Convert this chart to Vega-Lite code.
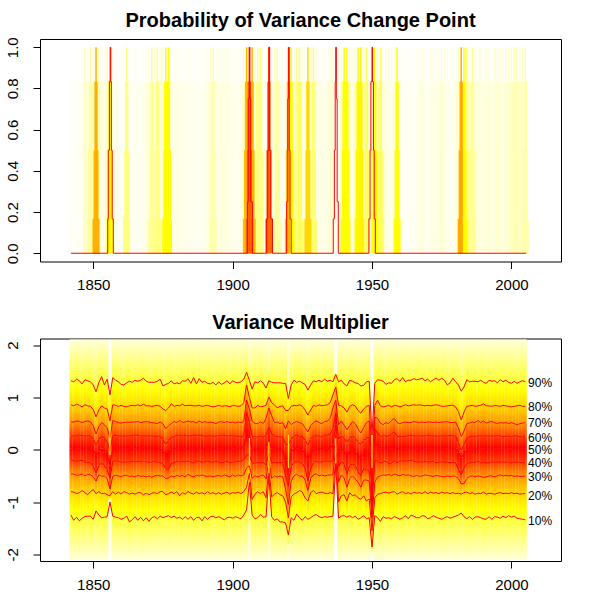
{
"$schema":"https://vega.github.io/schema/vega-lite/v6.json",
"padding":{"left":4,"top":10,"right":0,"bottom":0},
"background":"white",
"bounds":"flush",
"spacing":76.5,
"config":{
 "font":"Liberation Sans",
 "view":{"stroke":"black","strokeWidth":1},
 "axis":{"grid":false,"domain":false,"tickColor":"black","tickSize":7,"labelColor":"black","labelFontSize":15,"labelFont":"Liberation Sans"},
 "axisX":{"labelPadding":9},
 "axisY":{"labelPadding":13},
 "title":{"font":"Liberation Sans","fontSize":20,"fontWeight":"bold","color":"black","anchor":"middle","offset":5.5}
},
"datasets":{
"changes":[
{"year":1842,"p":0.03,"base":0},{"year":1843,"p":0.02,"base":0},{"year":1844,"p":0.03,"base":0},{"year":1845,"p":0.03,"base":0},{"year":1846,"p":0.05,"base":0},{"year":1848,"p":0.08,"base":0},{"year":1853,"p":0.08,"base":0},{"year":1854,"p":0.05,"base":0},{"year":1857,"p":0.05,"base":0},{"year":1858,"p":0.08,"base":0},{"year":1859,"p":0.03,"base":0},{"year":1860,"p":0.03,"base":0},{"year":1861,"p":0.05,"base":0},{"year":1863,"p":0.04,"base":0},{"year":1864,"p":0.03,"base":0},{"year":1865,"p":0.06,"base":0},{"year":1866,"p":0.05,"base":0},{"year":1867,"p":0.04,"base":0},{"year":1868,"p":0.06,"base":0},{"year":1869,"p":0.08,"base":0},{"year":1870,"p":0.1,"base":0},{"year":1872,"p":0.1,"base":0},{"year":1874,"p":0.1,"base":0},{"year":1875,"p":0.12,"base":0},{"year":1878,"p":0.07,"base":0},{"year":1879,"p":0.07,"base":0},{"year":1880,"p":0.07,"base":0},{"year":1881,"p":0.07,"base":0},{"year":1882,"p":0.06,"base":0},{"year":1883,"p":0.06,"base":0},{"year":1884,"p":0.06,"base":0},{"year":1885,"p":0.05,"base":0},{"year":1886,"p":0.05,"base":0},{"year":1887,"p":0.05,"base":0},{"year":1888,"p":0.04,"base":0},{"year":1889,"p":0.05,"base":0},{"year":1890,"p":0.06,"base":0},{"year":1891,"p":0.08,"base":0},{"year":1892,"p":0.12,"base":0},{"year":1894,"p":0.07,"base":0},{"year":1895,"p":0.07,"base":0},{"year":1896,"p":0.1,"base":0},{"year":1897,"p":0.07,"base":0},{"year":1898,"p":0.1,"base":0},{"year":1899,"p":0.07,"base":0},{"year":1900,"p":0.06,"base":0},{"year":1901,"p":0.05,"base":0},{"year":1902,"p":0.06,"base":0},{"year":1903,"p":0.05,"base":0},{"year":1908,"p":0.1,"base":0},{"year":1911,"p":0.06,"base":0},{"year":1912,"p":0.05,"base":0},{"year":1914,"p":0.07,"base":0},{"year":1915,"p":0.14,"base":0},{"year":1917,"p":0.08,"base":0},{"year":1918,"p":0.05,"base":0},{"year":1919,"p":0.05,"base":0},{"year":1922,"p":0.1,"base":0},{"year":1925,"p":0.08,"base":0},{"year":1926,"p":0.08,"base":0},{"year":1928,"p":0.14,"base":0},{"year":1930,"p":0.07,"base":0},{"year":1931,"p":0.06,"base":0},{"year":1932,"p":0.07,"base":0},{"year":1933,"p":0.06,"base":0},{"year":1934,"p":0.08,"base":0},{"year":1935,"p":0.1,"base":0},{"year":1936,"p":0.12,"base":0},{"year":1937,"p":0.03,"base":0},{"year":1938,"p":0.04,"base":0},{"year":1939,"p":0.12,"base":0},{"year":1942,"p":0.12,"base":0},{"year":1943,"p":0.06,"base":0},{"year":1944,"p":0.14,"base":0},{"year":1947,"p":0.2,"base":0},{"year":1949,"p":0.1,"base":0},{"year":1950,"p":0.08,"base":0},{"year":1952,"p":0.14,"base":0},{"year":1954,"p":0.08,"base":0},{"year":1955,"p":0.1,"base":0},{"year":1956,"p":0.07,"base":0},{"year":1957,"p":0.06,"base":0},{"year":1958,"p":0.1,"base":0},{"year":1960,"p":0.05,"base":0},{"year":1961,"p":0.04,"base":0},{"year":1962,"p":0.04,"base":0},{"year":1963,"p":0.04,"base":0},{"year":1964,"p":0.04,"base":0},{"year":1965,"p":0.04,"base":0},{"year":1966,"p":0.05,"base":0},{"year":1967,"p":0.07,"base":0},{"year":1968,"p":0.1,"base":0},{"year":1969,"p":0.06,"base":0},{"year":1970,"p":0.05,"base":0},{"year":1971,"p":0.07,"base":0},{"year":1972,"p":0.08,"base":0},{"year":1973,"p":0.07,"base":0},{"year":1974,"p":0.07,"base":0},{"year":1975,"p":0.12,"base":0},{"year":1976,"p":0.08,"base":0},{"year":1977,"p":0.06,"base":0},{"year":1978,"p":0.05,"base":0},{"year":1979,"p":0.05,"base":0},{"year":1980,"p":0.08,"base":0},{"year":1981,"p":0.14,"base":0},{"year":1985,"p":0.14,"base":0},{"year":1987,"p":0.12,"base":0},{"year":1988,"p":0.1,"base":0},{"year":1989,"p":0.08,"base":0},{"year":1990,"p":0.08,"base":0},{"year":1991,"p":0.1,"base":0},{"year":1992,"p":0.1,"base":0},{"year":1993,"p":0.07,"base":0},{"year":1994,"p":0.1,"base":0},{"year":1995,"p":0.12,"base":0},{"year":1996,"p":0.1,"base":0},{"year":1997,"p":0.08,"base":0},{"year":1998,"p":0.1,"base":0},{"year":1999,"p":0.12,"base":0},{"year":2000,"p":0.14,"base":0},{"year":2001,"p":0.18,"base":0},{"year":2002,"p":0.18,"base":0},{"year":2003,"p":0.14,"base":0},{"year":2004,"p":0.14,"base":0},{"year":2005,"p":0.2,"base":0},
{"year":1847,"p":0.15,"base":0},{"year":1849,"p":0.22,"base":0},{"year":1850,"p":0.16,"base":0},{"year":1852,"p":0.18,"base":0},{"year":1855,"p":0.15,"base":0},{"year":1862,"p":0.3,"base":0},{"year":1871,"p":0.25,"base":0},{"year":1873,"p":0.3,"base":0},{"year":1893,"p":0.2,"base":0},{"year":1904,"p":0.15,"base":0},{"year":1909,"p":0.3,"base":0},{"year":1910,"p":0.28,"base":0},{"year":1916,"p":0.22,"base":0},{"year":1923,"p":0.28,"base":0},{"year":1924,"p":0.35,"base":0},{"year":1929,"p":0.32,"base":0},{"year":1948,"p":0.35,"base":0},{"year":1953,"p":0.35,"base":0},{"year":1984,"p":0.3,"base":0},{"year":1986,"p":0.25,"base":0},
{"year":1876,"p":0.5,"base":0},{"year":1877,"p":0.5,"base":0},{"year":1856,"p":0.5,"base":0},{"year":1921,"p":0.5,"base":0},{"year":1940,"p":0.5,"base":0},{"year":1941,"p":0.5,"base":0},{"year":1945,"p":0.52,"base":0},{"year":1951,"p":0.5,"base":0},{"year":1959,"p":0.5,"base":0},{"year":1983,"p":0.5,"base":0},{"year":1946,"p":0.54,"base":0},
{"year":1927,"p":0.63,"base":0},{"year":1907,"p":0.72,"base":0},{"year":1905,"p":0.72,"base":0},{"year":1920,"p":0.72,"base":0},{"year":1851,"p":0.74,"base":0},{"year":1982,"p":0.75,"base":0},{"year":1913,"p":0.86,"base":0},{"year":1906,"p":0.88,"base":0}
],
"outline":[
{"i":1,"year":1842,"level":0},{"i":2,"year":1855.2,"level":0},{"i":3,"year":1855.2,"level":0.167},{"i":4,"year":1855.4,"level":0.167},{"i":5,"year":1855.4,"level":0.5},{"i":6,"year":1855.8,"level":0.5},{"i":7,"year":1855.8,"level":0.833},{"i":8,"year":1856.1,"level":0.833},{"i":9,"year":1856.1,"level":1},{"i":10,"year":1856.3,"level":1},{"i":11,"year":1856.3,"level":0.833},{"i":12,"year":1856.5,"level":0.833},{"i":13,"year":1856.5,"level":0.5},{"i":14,"year":1856.8,"level":0.5},{"i":15,"year":1856.8,"level":0.167},{"i":16,"year":1857.2,"level":0.167},{"i":17,"year":1857.2,"level":0},
{"i":18,"year":1905.3,"level":0},{"i":19,"year":1905.3,"level":0.25},{"i":20,"year":1905.6,"level":0.25},{"i":21,"year":1905.6,"level":0.75},{"i":22,"year":1906,"level":0.75},{"i":23,"year":1906,"level":1},{"i":24,"year":1906.2,"level":1},{"i":25,"year":1906.2,"level":0.75},{"i":26,"year":1906.5,"level":0.75},{"i":27,"year":1906.5,"level":0.25},{"i":28,"year":1907.1,"level":0.25},{"i":29,"year":1907.1,"level":0},
{"i":30,"year":1912.2,"level":0},{"i":31,"year":1912.2,"level":0.167},{"i":32,"year":1912.6,"level":0.167},{"i":33,"year":1912.6,"level":0.5},{"i":34,"year":1913,"level":0.5},{"i":35,"year":1913,"level":1},{"i":36,"year":1913.3,"level":1},{"i":37,"year":1913.3,"level":0.5},{"i":38,"year":1913.7,"level":0.5},{"i":39,"year":1913.7,"level":0.167},{"i":40,"year":1914.3,"level":0.167},{"i":41,"year":1914.3,"level":0},
{"i":42,"year":1919.4,"level":0},{"i":43,"year":1919.4,"level":0.25},{"i":44,"year":1919.8,"level":0.25},{"i":45,"year":1919.8,"level":0.75},{"i":46,"year":1920.1,"level":0.75},{"i":47,"year":1920.1,"level":1},{"i":48,"year":1920.3,"level":1},{"i":49,"year":1920.3,"level":0.5},{"i":50,"year":1920.6,"level":0.5},{"i":51,"year":1920.6,"level":0.167},{"i":52,"year":1921,"level":0.167},{"i":53,"year":1921,"level":0},
{"i":54,"year":1936.1,"level":0},{"i":55,"year":1936.1,"level":0.167},{"i":56,"year":1936.5,"level":0.167},{"i":57,"year":1936.5,"level":0.5},{"i":58,"year":1936.8,"level":0.5},{"i":59,"year":1936.8,"level":0.833},{"i":60,"year":1937,"level":0.833},{"i":61,"year":1937,"level":1},{"i":62,"year":1937.2,"level":1},{"i":63,"year":1937.2,"level":0.75},{"i":64,"year":1937.5,"level":0.75},{"i":65,"year":1937.5,"level":0.25},{"i":66,"year":1937.9,"level":0.25},{"i":67,"year":1937.9,"level":0},
{"i":68,"year":1948.9,"level":0},{"i":69,"year":1948.9,"level":0.167},{"i":70,"year":1949.3,"level":0.167},{"i":71,"year":1949.3,"level":0.5},{"i":72,"year":1949.6,"level":0.5},{"i":73,"year":1949.6,"level":0.833},{"i":74,"year":1950,"level":0.833},{"i":75,"year":1950,"level":1},{"i":76,"year":1950.2,"level":1},{"i":77,"year":1950.2,"level":0.833},{"i":78,"year":1950.5,"level":0.833},{"i":79,"year":1950.5,"level":0.5},{"i":80,"year":1950.8,"level":0.5},{"i":81,"year":1950.8,"level":0.167},{"i":82,"year":1951.2,"level":0.167},{"i":83,"year":1951.2,"level":0},{"i":84,"year":2005.3,"level":0}
],
"quantiles":[
{"year":1842,"q10":-1.25,"q20":-0.80,"q30":-0.46,"q40":-0.20,"q50":0.03,"q60":0.27,"q70":0.53,"q80":0.86,"q90":1.32},
{"year":1843,"q10":-1.35,"q20":-0.81,"q30":-0.47,"q40":-0.21,"q50":0.03,"q60":0.26,"q70":0.53,"q80":0.84,"q90":1.30},
{"year":1844,"q10":-1.29,"q20":-0.84,"q30":-0.49,"q40":-0.22,"q50":0.03,"q60":0.27,"q70":0.55,"q80":0.87,"q90":1.35},
{"year":1845,"q10":-1.36,"q20":-0.82,"q30":-0.48,"q40":-0.21,"q50":0.03,"q60":0.28,"q70":0.54,"q80":0.85,"q90":1.32},
{"year":1846,"q10":-1.31,"q20":-0.78,"q30":-0.46,"q40":-0.20,"q50":0.04,"q60":0.27,"q70":0.52,"q80":0.82,"q90":1.26},
{"year":1847,"q10":-1.28,"q20":-0.82,"q30":-0.50,"q40":-0.23,"q50":0.03,"q60":0.26,"q70":0.54,"q80":0.86,"q90":1.34},
{"year":1848,"q10":-1.27,"q20":-0.86,"q30":-0.47,"q40":-0.25,"q50":0.03,"q60":0.27,"q70":0.55,"q80":0.84,"q90":1.32},
{"year":1849,"q10":-1.27,"q20":-0.80,"q30":-0.48,"q40":-0.24,"q50":0.02,"q60":0.27,"q70":0.53,"q80":0.83,"q90":1.30},
{"year":1850,"q10":-1.33,"q20":-0.76,"q30":-0.52,"q40":-0.32,"q50":0.00,"q60":0.20,"q70":0.46,"q80":0.77,"q90":1.24},
{"year":1851,"q10":-1.17,"q20":-0.84,"q30":-0.60,"q40":-0.45,"q50":-0.12,"q60":0.09,"q70":0.30,"q80":0.63,"q90":1.11},
{"year":1852,"q10":-1.25,"q20":-0.80,"q30":-0.48,"q40":-0.30,"q50":-0.03,"q60":0.20,"q70":0.44,"q80":0.76,"q90":1.28},
{"year":1853,"q10":-1.30,"q20":-0.84,"q30":-0.51,"q40":-0.25,"q50":0.02,"q60":0.26,"q70":0.52,"q80":0.84,"q90":1.40},
{"year":1854,"q10":-1.29,"q20":-0.83,"q30":-0.50,"q40":-0.30,"q50":-0.05,"q60":0.22,"q70":0.48,"q80":0.80,"q90":1.24},
{"year":1855,"q10":-1.28,"q20":-0.86,"q30":-0.55,"q40":-0.38,"q50":-0.10,"q60":0.15,"q70":0.42,"q80":0.78,"q90":1.35},
{"year":1856,"q10":-1.00,"q20":-0.88,"q30":-0.75,"q40":-0.55,"q50":-0.30,"q60":-0.02,"q70":0.22,"q80":0.55,"q90":1.05},
{"year":1857,"q10":-1.27,"q20":-0.80,"q30":-0.51,"q40":-0.22,"q50":0.03,"q60":0.27,"q70":0.56,"q80":0.86,"q90":1.38},
{"year":1858,"q10":-1.29,"q20":-0.85,"q30":-0.49,"q40":-0.21,"q50":0.04,"q60":0.28,"q70":0.54,"q80":0.85,"q90":1.33},
{"year":1859,"q10":-1.30,"q20":-0.81,"q30":-0.50,"q40":-0.22,"q50":0.03,"q60":0.26,"q70":0.52,"q80":0.83,"q90":1.30},
{"year":1860,"q10":-1.33,"q20":-0.85,"q30":-0.52,"q40":-0.24,"q50":0.03,"q60":0.27,"q70":0.51,"q80":0.85,"q90":1.25},
{"year":1861,"q10":-1.31,"q20":-0.80,"q30":-0.49,"q40":-0.24,"q50":0.03,"q60":0.26,"q70":0.52,"q80":0.83,"q90":1.24},
{"year":1862,"q10":-1.27,"q20":-0.82,"q30":-0.49,"q40":-0.23,"q50":0.03,"q60":0.26,"q70":0.53,"q80":0.82,"q90":1.28},
{"year":1863,"q10":-1.38,"q20":-0.85,"q30":-0.51,"q40":-0.24,"q50":0.03,"q60":0.27,"q70":0.52,"q80":0.84,"q90":1.31},
{"year":1864,"q10":-1.34,"q20":-0.83,"q30":-0.50,"q40":-0.22,"q50":0.04,"q60":0.27,"q70":0.53,"q80":0.85,"q90":1.29},
{"year":1865,"q10":-1.28,"q20":-0.85,"q30":-0.52,"q40":-0.23,"q50":0.03,"q60":0.28,"q70":0.53,"q80":0.84,"q90":1.33},
{"year":1866,"q10":-1.35,"q20":-0.82,"q30":-0.49,"q40":-0.22,"q50":0.03,"q60":0.28,"q70":0.54,"q80":0.86,"q90":1.31},
{"year":1867,"q10":-1.29,"q20":-0.82,"q30":-0.51,"q40":-0.23,"q50":0.03,"q60":0.26,"q70":0.52,"q80":0.84,"q90":1.33},
{"year":1868,"q10":-1.36,"q20":-0.86,"q30":-0.50,"q40":-0.21,"q50":0.04,"q60":0.27,"q70":0.53,"q80":0.87,"q90":1.37},
{"year":1869,"q10":-1.30,"q20":-0.83,"q30":-0.52,"q40":-0.24,"q50":0.03,"q60":0.26,"q70":0.54,"q80":0.84,"q90":1.31},
{"year":1870,"q10":-1.37,"q20":-0.86,"q30":-0.50,"q40":-0.23,"q50":0.03,"q60":0.27,"q70":0.53,"q80":0.84,"q90":1.29},
{"year":1871,"q10":-1.30,"q20":-0.83,"q30":-0.53,"q40":-0.24,"q50":0.03,"q60":0.26,"q70":0.52,"q80":0.83,"q90":1.29},
{"year":1872,"q10":-1.28,"q20":-0.82,"q30":-0.50,"q40":-0.22,"q50":0.02,"q60":0.26,"q70":0.51,"q80":0.84,"q90":1.29},
{"year":1873,"q10":-1.32,"q20":-0.84,"q30":-0.49,"q40":-0.24,"q50":0.03,"q60":0.25,"q70":0.50,"q80":0.85,"q90":1.31},
{"year":1874,"q10":-1.27,"q20":-0.80,"q30":-0.50,"q40":-0.24,"q50":0.02,"q60":0.27,"q70":0.53,"q80":0.83,"q90":1.35},
{"year":1875,"q10":-1.30,"q20":-0.80,"q30":-0.50,"q40":-0.27,"q50":-0.02,"q60":0.20,"q70":0.50,"q80":0.78,"q90":1.22},
{"year":1876,"q10":-1.28,"q20":-0.86,"q30":-0.55,"q40":-0.36,"q50":-0.08,"q60":0.10,"q70":0.40,"q80":0.75,"q90":1.25},
{"year":1877,"q10":-1.26,"q20":-0.84,"q30":-0.54,"q40":-0.38,"q50":-0.06,"q60":0.18,"q70":0.46,"q80":0.80,"q90":1.27},
{"year":1878,"q10":-1.30,"q20":-0.81,"q30":-0.50,"q40":-0.25,"q50":0.01,"q60":0.24,"q70":0.50,"q80":0.88,"q90":1.32},
{"year":1879,"q10":-1.27,"q20":-0.84,"q30":-0.52,"q40":-0.25,"q50":0.02,"q60":0.25,"q70":0.54,"q80":0.83,"q90":1.26},
{"year":1880,"q10":-1.31,"q20":-0.80,"q30":-0.49,"q40":-0.22,"q50":0.03,"q60":0.28,"q70":0.52,"q80":0.85,"q90":1.28},
{"year":1881,"q10":-1.29,"q20":-0.88,"q30":-0.51,"q40":-0.24,"q50":0.03,"q60":0.27,"q70":0.56,"q80":0.84,"q90":1.26},
{"year":1882,"q10":-1.33,"q20":-0.82,"q30":-0.49,"q40":-0.22,"q50":0.03,"q60":0.26,"q70":0.52,"q80":0.87,"q90":1.32},
{"year":1883,"q10":-1.28,"q20":-0.85,"q30":-0.52,"q40":-0.23,"q50":0.03,"q60":0.28,"q70":0.53,"q80":0.84,"q90":1.31},
{"year":1884,"q10":-1.33,"q20":-0.80,"q30":-0.47,"q40":-0.21,"q50":0.04,"q60":0.26,"q70":0.55,"q80":0.85,"q90":1.36},
{"year":1885,"q10":-1.28,"q20":-0.83,"q30":-0.50,"q40":-0.24,"q50":0.03,"q60":0.27,"q70":0.53,"q80":0.85,"q90":1.27},
{"year":1886,"q10":-1.35,"q20":-0.85,"q30":-0.52,"q40":-0.25,"q50":0.03,"q60":0.28,"q70":0.54,"q80":0.84,"q90":1.38},
{"year":1887,"q10":-1.30,"q20":-0.81,"q30":-0.49,"q40":-0.22,"q50":0.02,"q60":0.27,"q70":0.51,"q80":0.84,"q90":1.26},
{"year":1888,"q10":-1.29,"q20":-0.84,"q30":-0.50,"q40":-0.22,"q50":0.03,"q60":0.28,"q70":0.55,"q80":0.85,"q90":1.36},
{"year":1889,"q10":-1.36,"q20":-0.82,"q30":-0.48,"q40":-0.24,"q50":0.03,"q60":0.27,"q70":0.52,"q80":0.83,"q90":1.29},
{"year":1890,"q10":-1.28,"q20":-0.85,"q30":-0.50,"q40":-0.23,"q50":0.02,"q60":0.26,"q70":0.54,"q80":0.84,"q90":1.31},
{"year":1891,"q10":-1.33,"q20":-0.80,"q30":-0.51,"q40":-0.22,"q50":0.03,"q60":0.26,"q70":0.52,"q80":0.85,"q90":1.27},
{"year":1892,"q10":-1.28,"q20":-0.84,"q30":-0.50,"q40":-0.23,"q50":0.03,"q60":0.27,"q70":0.53,"q80":0.83,"q90":1.26},
{"year":1893,"q10":-1.27,"q20":-0.82,"q30":-0.52,"q40":-0.24,"q50":0.02,"q60":0.26,"q70":0.52,"q80":0.82,"q90":1.29},
{"year":1894,"q10":-1.30,"q20":-0.85,"q30":-0.50,"q40":-0.22,"q50":0.03,"q60":0.26,"q70":0.50,"q80":0.83,"q90":1.24},
{"year":1895,"q10":-1.28,"q20":-0.82,"q30":-0.49,"q40":-0.24,"q50":0.03,"q60":0.27,"q70":0.53,"q80":0.85,"q90":1.30},
{"year":1896,"q10":-1.31,"q20":-0.85,"q30":-0.51,"q40":-0.25,"q50":0.03,"q60":0.27,"q70":0.54,"q80":0.83,"q90":1.25},
{"year":1897,"q10":-1.34,"q20":-0.83,"q30":-0.48,"q40":-0.24,"q50":0.03,"q60":0.28,"q70":0.52,"q80":0.84,"q90":1.28},
{"year":1898,"q10":-1.30,"q20":-0.81,"q30":-0.50,"q40":-0.22,"q50":0.03,"q60":0.26,"q70":0.54,"q80":0.84,"q90":1.32},
{"year":1899,"q10":-1.29,"q20":-0.85,"q30":-0.52,"q40":-0.25,"q50":0.03,"q60":0.27,"q70":0.52,"q80":0.82,"q90":1.26},
{"year":1900,"q10":-1.31,"q20":-0.82,"q30":-0.48,"q40":-0.24,"q50":0.03,"q60":0.27,"q70":0.53,"q80":0.85,"q90":1.32},
{"year":1901,"q10":-1.28,"q20":-0.83,"q30":-0.51,"q40":-0.23,"q50":0.03,"q60":0.26,"q70":0.51,"q80":0.84,"q90":1.29},
{"year":1902,"q10":-1.30,"q20":-0.81,"q30":-0.48,"q40":-0.22,"q50":0.04,"q60":0.26,"q70":0.53,"q80":0.83,"q90":1.28},
{"year":1903,"q10":-1.32,"q20":-0.84,"q30":-0.50,"q40":-0.22,"q50":0.04,"q60":0.25,"q70":0.52,"q80":0.84,"q90":1.30},
{"year":1904,"q10":-1.25,"q20":-0.80,"q30":-0.48,"q40":-0.20,"q50":0.05,"q60":0.26,"q70":0.54,"q80":0.90,"q90":1.35},
{"year":1905,"q10":-1.15,"q20":-0.72,"q30":-0.35,"q40":-0.10,"q50":0.30,"q60":0.72,"q70":0.95,"q80":1.24,"q90":1.48},
{"year":1906,"q10":-0.62,"q20":-0.45,"q30":-0.30,"q40":-0.10,"q50":0.22,"q60":0.52,"q70":0.78,"q80":1.00,"q90":1.33},
{"year":1907,"q10":-1.25,"q20":-0.95,"q30":-0.55,"q40":-0.25,"q50":0.02,"q60":0.25,"q70":0.55,"q80":0.80,"q90":1.16},
{"year":1908,"q10":-1.32,"q20":-0.85,"q30":-0.50,"q40":-0.26,"q50":0.00,"q60":0.25,"q70":0.50,"q80":0.80,"q90":1.30},
{"year":1909,"q10":-1.30,"q20":-0.80,"q30":-0.52,"q40":-0.24,"q50":0.01,"q60":0.24,"q70":0.50,"q80":0.85,"q90":1.28},
{"year":1910,"q10":-1.24,"q20":-0.84,"q30":-0.50,"q40":-0.25,"q50":0.01,"q60":0.26,"q70":0.53,"q80":0.82,"q90":1.32},
{"year":1911,"q10":-1.29,"q20":-0.80,"q30":-0.48,"q40":-0.24,"q50":0.02,"q60":0.24,"q70":0.50,"q80":0.83,"q90":1.27},
{"year":1912,"q10":-1.28,"q20":-0.92,"q30":-0.56,"q40":-0.30,"q50":0.05,"q60":0.28,"q70":0.60,"q80":0.85,"q90":1.18},
{"year":1913,"q10":-0.50,"q20":-0.35,"q30":-0.20,"q40":-0.05,"q50":0.15,"q60":0.44,"q70":0.80,"q80":1.01,"q90":1.32},
{"year":1914,"q10":-1.28,"q20":-0.90,"q30":-0.55,"q40":-0.25,"q50":0.03,"q60":0.30,"q70":0.65,"q80":0.90,"q90":1.29},
{"year":1915,"q10":-1.35,"q20":-0.85,"q30":-0.50,"q40":-0.24,"q50":0.03,"q60":0.27,"q70":0.52,"q80":0.86,"q90":1.28},
{"year":1916,"q10":-1.32,"q20":-0.82,"q30":-0.52,"q40":-0.25,"q50":0.02,"q60":0.25,"q70":0.53,"q80":0.80,"q90":1.28},
{"year":1917,"q10":-1.38,"q20":-0.86,"q30":-0.50,"q40":-0.24,"q50":0.01,"q60":0.25,"q70":0.50,"q80":0.83,"q90":1.28},
{"year":1918,"q10":-1.38,"q20":-0.88,"q30":-0.52,"q40":-0.26,"q50":0.00,"q60":0.24,"q70":0.52,"q80":0.84,"q90":1.27},
{"year":1919,"q10":-1.40,"q20":-1.00,"q30":-0.75,"q40":-0.50,"q50":-0.20,"q60":0.10,"q70":0.40,"q80":0.75,"q90":1.27},
{"year":1920,"q10":-1.63,"q20":-1.30,"q30":-1.05,"q40":-0.70,"q50":-0.35,"q60":0.10,"q70":0.55,"q80":0.75,"q90":0.98},
{"year":1921,"q10":-1.30,"q20":-0.90,"q30":-0.60,"q40":-0.32,"q50":-0.05,"q60":0.20,"q70":0.48,"q80":0.83,"q90":1.24},
{"year":1922,"q10":-1.35,"q20":-0.85,"q30":-0.50,"q40":-0.24,"q50":0.02,"q60":0.27,"q70":0.52,"q80":0.85,"q90":1.33},
{"year":1923,"q10":-1.23,"q20":-0.82,"q30":-0.47,"q40":-0.22,"q50":0.02,"q60":0.28,"q70":0.54,"q80":0.84,"q90":1.29},
{"year":1924,"q10":-1.30,"q20":-0.78,"q30":-0.51,"q40":-0.24,"q50":0.01,"q60":0.25,"q70":0.52,"q80":0.86,"q90":1.31},
{"year":1925,"q10":-1.35,"q20":-0.81,"q30":-0.50,"q40":-0.26,"q50":0.00,"q60":0.26,"q70":0.50,"q80":0.83,"q90":1.28},
{"year":1926,"q10":-1.28,"q20":-0.92,"q30":-0.58,"q40":-0.35,"q50":-0.08,"q60":0.18,"q70":0.42,"q80":0.76,"q90":1.25},
{"year":1927,"q10":-1.33,"q20":-0.98,"q30":-0.78,"q40":-0.60,"q50":-0.18,"q60":0.09,"q70":0.34,"q80":0.66,"q90":1.14},
{"year":1928,"q10":-1.30,"q20":-0.82,"q30":-0.55,"q40":-0.35,"q50":-0.06,"q60":0.20,"q70":0.46,"q80":0.76,"q90":1.24},
{"year":1929,"q10":-1.26,"q20":-0.78,"q30":-0.48,"q40":-0.24,"q50":0.03,"q60":0.26,"q70":0.52,"q80":0.85,"q90":1.32},
{"year":1930,"q10":-1.24,"q20":-0.84,"q30":-0.46,"q40":-0.22,"q50":0.03,"q60":0.27,"q70":0.55,"q80":0.83,"q90":1.30},
{"year":1931,"q10":-1.28,"q20":-0.82,"q30":-0.50,"q40":-0.24,"q50":0.02,"q60":0.26,"q70":0.52,"q80":0.86,"q90":1.33},
{"year":1932,"q10":-1.30,"q20":-0.81,"q30":-0.48,"q40":-0.23,"q50":0.03,"q60":0.24,"q70":0.50,"q80":0.84,"q90":1.30},
{"year":1933,"q10":-1.28,"q20":-0.83,"q30":-0.50,"q40":-0.22,"q50":0.02,"q60":0.28,"q70":0.54,"q80":0.85,"q90":1.35},
{"year":1934,"q10":-1.29,"q20":-0.84,"q30":-0.49,"q40":-0.22,"q50":0.02,"q60":0.28,"q70":0.55,"q80":0.86,"q90":1.31},
{"year":1935,"q10":-1.28,"q20":-0.82,"q30":-0.48,"q40":-0.22,"q50":0.03,"q60":0.30,"q70":0.60,"q80":0.90,"q90":1.33},
{"year":1936,"q10":-1.27,"q20":-0.84,"q30":-0.48,"q40":-0.22,"q50":0.10,"q60":0.40,"q70":0.80,"q80":1.05,"q90":1.30},
{"year":1937,"q10":-0.28,"q20":-0.10,"q30":0.08,"q40":0.28,"q50":0.48,"q60":0.70,"q70":0.95,"q80":1.20,"q90":1.44},
{"year":1938,"q10":-1.31,"q20":-1.00,"q30":-0.62,"q40":-0.32,"q50":-0.04,"q60":0.20,"q70":0.48,"q80":0.85,"q90":1.30},
{"year":1939,"q10":-1.27,"q20":-0.88,"q30":-0.48,"q40":-0.22,"q50":0.03,"q60":0.27,"q70":0.55,"q80":0.84,"q90":1.33},
{"year":1940,"q10":-1.26,"q20":-0.86,"q30":-0.54,"q40":-0.28,"q50":-0.02,"q60":0.22,"q70":0.47,"q80":0.80,"q90":1.26},
{"year":1941,"q10":-1.29,"q20":-0.98,"q30":-0.72,"q40":-0.46,"q50":-0.12,"q60":0.14,"q70":0.38,"q80":0.72,"q90":1.22},
{"year":1942,"q10":-1.26,"q20":-0.82,"q30":-0.55,"q40":-0.30,"q50":-0.02,"q60":0.22,"q70":0.46,"q80":0.83,"q90":1.33},
{"year":1943,"q10":-1.30,"q20":-0.88,"q30":-0.50,"q40":-0.27,"q50":0.00,"q60":0.27,"q70":0.54,"q80":0.86,"q90":1.31},
{"year":1944,"q10":-1.27,"q20":-0.86,"q30":-0.56,"q40":-0.30,"q50":-0.03,"q60":0.22,"q70":0.50,"q80":0.84,"q90":1.28},
{"year":1945,"q10":-1.33,"q20":-0.92,"q30":-0.62,"q40":-0.42,"q50":-0.12,"q60":0.14,"q70":0.40,"q80":0.75,"q90":1.27},
{"year":1946,"q10":-1.30,"q20":-0.95,"q30":-0.72,"q40":-0.50,"q50":-0.15,"q60":0.10,"q70":0.32,"q80":0.70,"q90":1.22},
{"year":1947,"q10":-1.26,"q20":-0.88,"q30":-0.58,"q40":-0.36,"q50":-0.08,"q60":0.18,"q70":0.42,"q80":0.78,"q90":1.23},
{"year":1948,"q10":-1.32,"q20":-0.98,"q30":-0.58,"q40":-0.38,"q50":-0.05,"q60":0.22,"q70":0.52,"q80":0.83,"q90":1.30},
{"year":1949,"q10":-1.30,"q20":-0.94,"q30":-0.60,"q40":-0.40,"q50":-0.05,"q60":0.25,"q70":0.55,"q80":0.85,"q90":1.31},
{"year":1950,"q10":-1.86,"q20":-1.55,"q30":-1.30,"q40":-1.10,"q50":-0.85,"q60":-0.65,"q70":-0.40,"q80":-0.10,"q90":0.28},
{"year":1951,"q10":-1.26,"q20":-0.92,"q30":-0.62,"q40":-0.20,"q50":0.15,"q60":0.40,"q70":0.62,"q80":0.85,"q90":1.27},
{"year":1952,"q10":-1.30,"q20":-0.85,"q30":-0.52,"q40":-0.22,"q50":0.07,"q60":0.32,"q70":0.60,"q80":0.95,"q90":1.34},
{"year":1953,"q10":-1.37,"q20":-0.84,"q30":-0.50,"q40":-0.26,"q50":0.03,"q60":0.25,"q70":0.51,"q80":0.84,"q90":1.33},
{"year":1954,"q10":-1.28,"q20":-0.82,"q30":-0.48,"q40":-0.24,"q50":0.03,"q60":0.27,"q70":0.48,"q80":0.82,"q90":1.31},
{"year":1955,"q10":-1.31,"q20":-0.81,"q30":-0.49,"q40":-0.21,"q50":0.03,"q60":0.26,"q70":0.52,"q80":0.83,"q90":1.25},
{"year":1956,"q10":-1.30,"q20":-0.83,"q30":-0.47,"q40":-0.27,"q50":0.03,"q60":0.26,"q70":0.50,"q80":0.85,"q90":1.28},
{"year":1957,"q10":-1.32,"q20":-0.81,"q30":-0.50,"q40":-0.26,"q50":0.03,"q60":0.30,"q70":0.56,"q80":0.82,"q90":1.27},
{"year":1958,"q10":-1.28,"q20":-0.80,"q30":-0.46,"q40":-0.20,"q50":0.05,"q60":0.35,"q70":0.60,"q80":0.85,"q90":1.34},
{"year":1959,"q10":-1.30,"q20":-0.85,"q30":-0.48,"q40":-0.25,"q50":0.02,"q60":0.25,"q70":0.52,"q80":0.84,"q90":1.36},
{"year":1960,"q10":-1.33,"q20":-0.82,"q30":-0.50,"q40":-0.22,"q50":0.03,"q60":0.26,"q70":0.50,"q80":0.82,"q90":1.31},
{"year":1961,"q10":-1.30,"q20":-0.80,"q30":-0.47,"q40":-0.21,"q50":0.03,"q60":0.25,"q70":0.52,"q80":0.84,"q90":1.38},
{"year":1962,"q10":-1.26,"q20":-0.84,"q30":-0.49,"q40":-0.22,"q50":0.03,"q60":0.26,"q70":0.53,"q80":0.86,"q90":1.30},
{"year":1963,"q10":-1.32,"q20":-0.82,"q30":-0.48,"q40":-0.21,"q50":0.03,"q60":0.27,"q70":0.52,"q80":0.84,"q90":1.33},
{"year":1964,"q10":-1.25,"q20":-0.85,"q30":-0.50,"q40":-0.20,"q50":0.04,"q60":0.28,"q70":0.52,"q80":0.85,"q90":1.33},
{"year":1965,"q10":-1.27,"q20":-0.81,"q30":-0.51,"q40":-0.22,"q50":0.03,"q60":0.26,"q70":0.54,"q80":0.86,"q90":1.36},
{"year":1966,"q10":-1.30,"q20":-0.83,"q30":-0.49,"q40":-0.23,"q50":0.03,"q60":0.27,"q70":0.53,"q80":0.85,"q90":1.34},
{"year":1967,"q10":-1.30,"q20":-0.82,"q30":-0.51,"q40":-0.23,"q50":0.03,"q60":0.26,"q70":0.52,"q80":0.86,"q90":1.35},
{"year":1968,"q10":-1.26,"q20":-0.84,"q30":-0.50,"q40":-0.24,"q50":0.03,"q60":0.27,"q70":0.53,"q80":0.85,"q90":1.37},
{"year":1969,"q10":-1.27,"q20":-0.80,"q30":-0.48,"q40":-0.22,"q50":0.03,"q60":0.26,"q70":0.52,"q80":0.84,"q90":1.32},
{"year":1970,"q10":-1.32,"q20":-0.84,"q30":-0.49,"q40":-0.24,"q50":0.03,"q60":0.28,"q70":0.53,"q80":0.85,"q90":1.35},
{"year":1971,"q10":-1.30,"q20":-0.81,"q30":-0.50,"q40":-0.23,"q50":0.03,"q60":0.26,"q70":0.53,"q80":0.84,"q90":1.30},
{"year":1972,"q10":-1.26,"q20":-0.83,"q30":-0.51,"q40":-0.22,"q50":0.03,"q60":0.27,"q70":0.52,"q80":0.85,"q90":1.34},
{"year":1973,"q10":-1.29,"q20":-0.82,"q30":-0.49,"q40":-0.25,"q50":0.03,"q60":0.26,"q70":0.53,"q80":0.86,"q90":1.37},
{"year":1974,"q10":-1.31,"q20":-0.84,"q30":-0.50,"q40":-0.24,"q50":0.03,"q60":0.26,"q70":0.52,"q80":0.85,"q90":1.33},
{"year":1975,"q10":-1.33,"q20":-0.81,"q30":-0.51,"q40":-0.23,"q50":0.03,"q60":0.27,"q70":0.53,"q80":0.83,"q90":1.37},
{"year":1976,"q10":-1.30,"q20":-0.83,"q30":-0.52,"q40":-0.24,"q50":0.03,"q60":0.26,"q70":0.53,"q80":0.83,"q90":1.33},
{"year":1977,"q10":-1.28,"q20":-0.82,"q30":-0.50,"q40":-0.24,"q50":0.03,"q60":0.27,"q70":0.54,"q80":0.84,"q90":1.24},
{"year":1978,"q10":-1.31,"q20":-0.84,"q30":-0.52,"q40":-0.25,"q50":0.03,"q60":0.27,"q70":0.52,"q80":0.85,"q90":1.28},
{"year":1979,"q10":-1.29,"q20":-0.82,"q30":-0.50,"q40":-0.24,"q50":0.03,"q60":0.27,"q70":0.52,"q80":0.85,"q90":1.37},
{"year":1980,"q10":-1.27,"q20":-0.84,"q30":-0.51,"q40":-0.25,"q50":0.02,"q60":0.26,"q70":0.53,"q80":0.82,"q90":1.30},
{"year":1981,"q10":-1.25,"q20":-0.83,"q30":-0.55,"q40":-0.38,"q50":-0.05,"q60":0.14,"q70":0.42,"q80":0.73,"q90":1.24},
{"year":1982,"q10":-1.21,"q20":-0.85,"q30":-0.65,"q40":-0.48,"q50":-0.15,"q60":-0.01,"q70":0.25,"q80":0.57,"q90":1.12},
{"year":1983,"q10":-1.28,"q20":-0.82,"q30":-0.65,"q40":-0.35,"q50":-0.08,"q60":0.10,"q70":0.36,"q80":0.72,"q90":1.20},
{"year":1984,"q10":-1.32,"q20":-0.81,"q30":-0.55,"q40":-0.26,"q50":0.00,"q60":0.22,"q70":0.50,"q80":0.83,"q90":1.34},
{"year":1985,"q10":-1.28,"q20":-0.84,"q30":-0.51,"q40":-0.25,"q50":0.01,"q60":0.25,"q70":0.51,"q80":0.84,"q90":1.30},
{"year":1986,"q10":-1.33,"q20":-0.82,"q30":-0.50,"q40":-0.24,"q50":0.02,"q60":0.26,"q70":0.53,"q80":0.85,"q90":1.31},
{"year":1987,"q10":-1.29,"q20":-0.85,"q30":-0.52,"q40":-0.24,"q50":0.02,"q60":0.25,"q70":0.52,"q80":0.83,"q90":1.31},
{"year":1988,"q10":-1.28,"q20":-0.83,"q30":-0.50,"q40":-0.22,"q50":0.03,"q60":0.27,"q70":0.56,"q80":0.84,"q90":1.30},
{"year":1989,"q10":-1.30,"q20":-0.84,"q30":-0.51,"q40":-0.25,"q50":0.03,"q60":0.26,"q70":0.52,"q80":0.85,"q90":1.33},
{"year":1990,"q10":-1.32,"q20":-0.81,"q30":-0.53,"q40":-0.24,"q50":0.03,"q60":0.27,"q70":0.55,"q80":0.88,"q90":1.29},
{"year":1991,"q10":-1.33,"q20":-0.85,"q30":-0.52,"q40":-0.25,"q50":0.03,"q60":0.26,"q70":0.51,"q80":0.84,"q90":1.27},
{"year":1992,"q10":-1.28,"q20":-0.83,"q30":-0.50,"q40":-0.25,"q50":0.03,"q60":0.27,"q70":0.53,"q80":0.84,"q90":1.33},
{"year":1993,"q10":-1.33,"q20":-0.84,"q30":-0.50,"q40":-0.23,"q50":0.03,"q60":0.26,"q70":0.54,"q80":0.83,"q90":1.31},
{"year":1994,"q10":-1.28,"q20":-0.85,"q30":-0.52,"q40":-0.24,"q50":0.03,"q60":0.26,"q70":0.52,"q80":0.85,"q90":1.32},
{"year":1995,"q10":-1.29,"q20":-0.83,"q30":-0.50,"q40":-0.23,"q50":0.03,"q60":0.27,"q70":0.50,"q80":0.84,"q90":1.28},
{"year":1996,"q10":-1.31,"q20":-0.82,"q30":-0.48,"q40":-0.24,"q50":0.03,"q60":0.27,"q70":0.52,"q80":0.83,"q90":1.34},
{"year":1997,"q10":-1.27,"q20":-0.84,"q30":-0.50,"q40":-0.23,"q50":0.03,"q60":0.25,"q70":0.51,"q80":0.85,"q90":1.30},
{"year":1998,"q10":-1.30,"q20":-0.83,"q30":-0.49,"q40":-0.24,"q50":0.03,"q60":0.26,"q70":0.52,"q80":0.84,"q90":1.33},
{"year":1999,"q10":-1.26,"q20":-0.84,"q30":-0.50,"q40":-0.23,"q50":0.03,"q60":0.26,"q70":0.50,"q80":0.83,"q90":1.29},
{"year":2000,"q10":-1.29,"q20":-0.82,"q30":-0.49,"q40":-0.25,"q50":0.03,"q60":0.25,"q70":0.52,"q80":0.82,"q90":1.27},
{"year":2001,"q10":-1.27,"q20":-0.84,"q30":-0.51,"q40":-0.23,"q50":0.03,"q60":0.27,"q70":0.50,"q80":0.83,"q90":1.31},
{"year":2002,"q10":-1.31,"q20":-0.83,"q30":-0.50,"q40":-0.24,"q50":0.03,"q60":0.26,"q70":0.48,"q80":0.84,"q90":1.27},
{"year":2003,"q10":-1.32,"q20":-0.85,"q30":-0.51,"q40":-0.24,"q50":0.03,"q60":0.25,"q70":0.50,"q80":0.85,"q90":1.30},
{"year":2004,"q10":-1.33,"q20":-0.84,"q30":-0.51,"q40":-0.25,"q50":0.03,"q60":0.25,"q70":0.51,"q80":0.83,"q90":1.32},
{"year":2005,"q10":-1.34,"q20":-0.84,"q30":-0.50,"q40":-0.24,"q50":0.03,"q60":0.25,"q70":0.52,"q80":0.83,"q90":1.30}
],
"washes":[
{"year":1856,"upper":2.1,"lower":1.08,"density":0.9},{"year":1856,"upper":-0.95,"lower":-2.1,"density":0.85},
{"year":1906,"upper":2.1,"lower":1.6,"density":0.3},{"year":1906,"upper":-1.4,"lower":-2.1,"density":0.3},
{"year":1913,"upper":2.1,"lower":1.5,"density":0.25},{"year":1913,"upper":-1.2,"lower":-2.1,"density":0.25},
{"year":1920,"upper":2.1,"lower":1.1,"density":0.5},{"year":1920,"upper":-1.8,"lower":-2.1,"density":0.5},
{"year":1937,"upper":2.1,"lower":1.45,"density":0.95},{"year":1937,"upper":-0.3,"lower":-2.1,"density":0.95},
{"year":1950,"upper":2.1,"lower":0.3,"density":0.95},{"year":1950,"upper":-1.9,"lower":-2.1,"density":0.8}
],
"cores":[
{"year":1856,"upper":0.5,"lower":-0.1},{"year":1906,"upper":0.22,"lower":-0.3},{"year":1913,"upper":0.15,"lower":-0.45},{"year":1920,"upper":0.28,"lower":-0.35},{"year":1937,"upper":0.22,"lower":-0.26},{"year":1950,"upper":0.28,"lower":-0.35}
],
"labels":[
{"year":2006,"value":1.28,"label":"90%"},{"year":2006,"value":0.82,"label":"80%"},{"year":2006,"value":0.51,"label":"70%"},{"year":2006,"value":0.22,"label":"60%"},{"year":2006,"value":-0.01,"label":"50%"},{"year":2006,"value":-0.25,"label":"40%"},{"year":2006,"value":-0.52,"label":"30%"},{"year":2006,"value":-0.88,"label":"20%"},{"year":2006,"value":-1.36,"label":"10%"}
]
},
"vconcat":[
{
 "title":"Probability of Variance Change Point",
 "width":521,"height":222.5,
 "data":{"name":"changes"},
 "encoding":{"x":{"field":"year","type":"quantitative","title":null,"scale":{"domain":[1830.9,2017.8],"nice":false,"zero":false,"padding":0},"axis":{"values":[1850,1900,1950,2000],"format":"d"}}},
 "layer":[
  {"transform":[{"filter":"datum.p < 0.2"}],"mark":{"type":"bar","width":7},"encoding":{
    "y":{"field":"base","type":"quantitative","title":null,"scale":{"domain":[-0.04,1.04],"nice":false},"axis":{"values":[0,0.2,0.4,0.6,0.8,1],"format":".1f","labelAngle":-90,"labelAlign":"center","labelBaseline":"bottom"}},
    "y2":{"datum":0.167},
    "color":{"field":"p","type":"quantitative","legend":null,"scale":{"domain":[0,0.05,0.15,0.3,0.5,0.63,0.74,0.88,1],"range":["#ffffff","#fffff0","#ffffc0","#ffff80","#ffff00","#ffd800","#ffb000","#ff6000","#ff0000"],"interpolate":"rgb"}}}},
  {"transform":[{"filter":"datum.p < 0.2"}],"mark":{"type":"bar","width":5},"encoding":{"y":{"field":"base","type":"quantitative","title":null},"y2":{"datum":0.5},"color":{"field":"p","type":"quantitative","legend":null}}},
  {"transform":[{"filter":"datum.p < 0.2"}],"mark":{"type":"bar","width":3.3},"encoding":{"y":{"field":"base","type":"quantitative","title":null},"y2":{"datum":0.833},"color":{"field":"p","type":"quantitative","legend":null}}},
  {"transform":[{"filter":"datum.p < 0.2"}],"mark":{"type":"bar","width":1.5},"encoding":{"y":{"field":"base","type":"quantitative","title":null},"y2":{"datum":1},"color":{"field":"p","type":"quantitative","legend":null}}},
  {"transform":[{"filter":"datum.p >= 0.2 && datum.p < 0.45"}],"mark":{"type":"bar","width":7},"encoding":{"y":{"field":"base","type":"quantitative","title":null},"y2":{"datum":0.167},"color":{"field":"p","type":"quantitative","legend":null}}},
  {"transform":[{"filter":"datum.p >= 0.2 && datum.p < 0.45"}],"mark":{"type":"bar","width":5},"encoding":{"y":{"field":"base","type":"quantitative","title":null},"y2":{"datum":0.5},"color":{"field":"p","type":"quantitative","legend":null}}},
  {"transform":[{"filter":"datum.p >= 0.2 && datum.p < 0.45"}],"mark":{"type":"bar","width":3.3},"encoding":{"y":{"field":"base","type":"quantitative","title":null},"y2":{"datum":0.833},"color":{"field":"p","type":"quantitative","legend":null}}},
  {"transform":[{"filter":"datum.p >= 0.2 && datum.p < 0.45"}],"mark":{"type":"bar","width":1.5},"encoding":{"y":{"field":"base","type":"quantitative","title":null},"y2":{"datum":1},"color":{"field":"p","type":"quantitative","legend":null}}},
  {"transform":[{"filter":"datum.p >= 0.45 && datum.p < 0.8"}],"mark":{"type":"bar","width":7},"encoding":{"y":{"field":"base","type":"quantitative","title":null},"y2":{"datum":0.167},"color":{"field":"p","type":"quantitative","legend":null}}},
  {"transform":[{"filter":"datum.p >= 0.45 && datum.p < 0.8"}],"mark":{"type":"bar","width":5},"encoding":{"y":{"field":"base","type":"quantitative","title":null},"y2":{"datum":0.5},"color":{"field":"p","type":"quantitative","legend":null}}},
  {"transform":[{"filter":"datum.p >= 0.45 && datum.p < 0.8"}],"mark":{"type":"bar","width":3.3},"encoding":{"y":{"field":"base","type":"quantitative","title":null},"y2":{"datum":0.833},"color":{"field":"p","type":"quantitative","legend":null}}},
  {"transform":[{"filter":"datum.p >= 0.45 && datum.p < 0.8"}],"mark":{"type":"bar","width":1.5},"encoding":{"y":{"field":"base","type":"quantitative","title":null},"y2":{"datum":1},"color":{"field":"p","type":"quantitative","legend":null}}},
  {"transform":[{"filter":"datum.p >= 0.8"}],"mark":{"type":"bar","width":7},"encoding":{"y":{"field":"base","type":"quantitative","title":null},"y2":{"datum":0.167},"color":{"field":"p","type":"quantitative","legend":null}}},
  {"transform":[{"filter":"datum.p >= 0.8"}],"mark":{"type":"bar","width":5},"encoding":{"y":{"field":"base","type":"quantitative","title":null},"y2":{"datum":0.5},"color":{"field":"p","type":"quantitative","legend":null}}},
  {"transform":[{"filter":"datum.p >= 0.8"}],"mark":{"type":"bar","width":3.3},"encoding":{"y":{"field":"base","type":"quantitative","title":null},"y2":{"datum":0.833},"color":{"field":"p","type":"quantitative","legend":null}}},
  {"transform":[{"filter":"datum.p >= 0.8"}],"mark":{"type":"bar","width":1.5},"encoding":{"y":{"field":"base","type":"quantitative","title":null},"y2":{"datum":1},"color":{"field":"p","type":"quantitative","legend":null}}},
  {"data":{"name":"outline"},"mark":{"type":"line","color":"#ff0000","strokeWidth":1},"encoding":{"y":{"field":"level","type":"quantitative","title":null},"order":{"field":"i","type":"quantitative"}}}
 ]
},
{
 "title":"Variance Multiplier",
 "width":521,"height":222.5,
 "data":{"name":"quantiles"},
 "encoding":{"x":{"field":"year","type":"quantitative","title":null,"scale":{"domain":[1830.9,2017.8],"nice":false,"zero":false,"padding":0},"axis":{"values":[1850,1900,1950,2000],"format":"d"}}},
 "layer":[
  {"mark":{"type":"bar","width":3,"color":{"gradient":"linear","x1":0,"y1":0,"x2":0,"y2":1,"stops":[{"offset":0,"color":"#ffffd8"},{"offset":1,"color":"#ffff30"}]}},"encoding":{
    "y":{"field":"q90","type":"quantitative","title":null,"scale":{"domain":[-2.128,2.128],"nice":false},"axis":{"values":[-2,-1,0,1,2],"labelExpr":"'' + datum.value","labelAngle":-90,"labelAlign":"center","labelBaseline":"bottom"}},
    "y2":{"datum":2.11}}},
  {"mark":{"type":"bar","width":3,"color":{"gradient":"linear","x1":0,"y1":0,"x2":0,"y2":1,"stops":[{"offset":0,"color":"#ffff30"},{"offset":0.35,"color":"#ffff00"},{"offset":1,"color":"#ffd800"}]}},"encoding":{"y":{"field":"q90","type":"quantitative","title":null},"y2":{"field":"q80"}}},
  {"mark":{"type":"bar","width":3,"color":{"gradient":"linear","x1":0,"y1":0,"x2":0,"y2":1,"stops":[{"offset":0,"color":"#ffd800"},{"offset":1,"color":"#ff9800"}]}},"encoding":{"y":{"field":"q80","type":"quantitative","title":null},"y2":{"field":"q70"}}},
  {"mark":{"type":"bar","width":3,"color":{"gradient":"linear","x1":0,"y1":0,"x2":0,"y2":1,"stops":[{"offset":0,"color":"#ff9800"},{"offset":1,"color":"#ff4000"}]}},"encoding":{"y":{"field":"q70","type":"quantitative","title":null},"y2":{"field":"q60"}}},
  {"mark":{"type":"bar","width":3,"color":{"gradient":"linear","x1":0,"y1":0,"x2":0,"y2":1,"stops":[{"offset":0,"color":"#ff4000"},{"offset":1,"color":"#ff0000"}]}},"encoding":{"y":{"field":"q60","type":"quantitative","title":null},"y2":{"field":"q50"}}},
  {"mark":{"type":"bar","width":3,"color":{"gradient":"linear","x1":0,"y1":0,"x2":0,"y2":1,"stops":[{"offset":0,"color":"#ff0000"},{"offset":1,"color":"#ff4000"}]}},"encoding":{"y":{"field":"q50","type":"quantitative","title":null},"y2":{"field":"q40"}}},
  {"mark":{"type":"bar","width":3,"color":{"gradient":"linear","x1":0,"y1":0,"x2":0,"y2":1,"stops":[{"offset":0,"color":"#ff4000"},{"offset":1,"color":"#ff9800"}]}},"encoding":{"y":{"field":"q40","type":"quantitative","title":null},"y2":{"field":"q30"}}},
  {"mark":{"type":"bar","width":3,"color":{"gradient":"linear","x1":0,"y1":0,"x2":0,"y2":1,"stops":[{"offset":0,"color":"#ff9800"},{"offset":1,"color":"#ffd800"}]}},"encoding":{"y":{"field":"q30","type":"quantitative","title":null},"y2":{"field":"q20"}}},
  {"mark":{"type":"bar","width":3,"color":{"gradient":"linear","x1":0,"y1":0,"x2":0,"y2":1,"stops":[{"offset":0,"color":"#ffd800"},{"offset":0.65,"color":"#ffff00"},{"offset":1,"color":"#ffff30"}]}},"encoding":{"y":{"field":"q20","type":"quantitative","title":null},"y2":{"field":"q10"}}},
  {"mark":{"type":"bar","width":3,"color":{"gradient":"linear","x1":0,"y1":0,"x2":0,"y2":1,"stops":[{"offset":0,"color":"#ffff30"},{"offset":1,"color":"#ffffd8"}]}},"encoding":{"y":{"field":"q10","type":"quantitative","title":null},"y2":{"datum":-2.11}}},
  {"data":{"name":"washes"},"mark":{"type":"bar","width":3,"color":"white"},"encoding":{"y":{"field":"upper","type":"quantitative","title":null},"y2":{"field":"lower"},"opacity":{"field":"density","type":"quantitative","legend":null,"scale":{"domain":[0,1],"range":[0,1]}}}},
  {"transform":[{"fold":["q10","q20","q30","q40","q50","q60","q70","q80","q90"],"as":["quantile","multiplier"]}],"mark":{"type":"line","color":"#ff0000","strokeWidth":1},"encoding":{"y":{"field":"multiplier","type":"quantitative","title":null},"detail":{"field":"quantile"}}},
  {"data":{"name":"cores"},"mark":{"type":"bar","width":1,"color":"#ffff00"},"encoding":{"y":{"field":"upper","type":"quantitative","title":null},"y2":{"field":"lower"}}},
  {"data":{"name":"labels"},"mark":{"type":"text","align":"left","baseline":"middle","fontSize":12,"font":"Liberation Sans","color":"black"},"encoding":{"y":{"field":"value","type":"quantitative","title":null},"text":{"field":"label"}}}
 ]
}
]
}
